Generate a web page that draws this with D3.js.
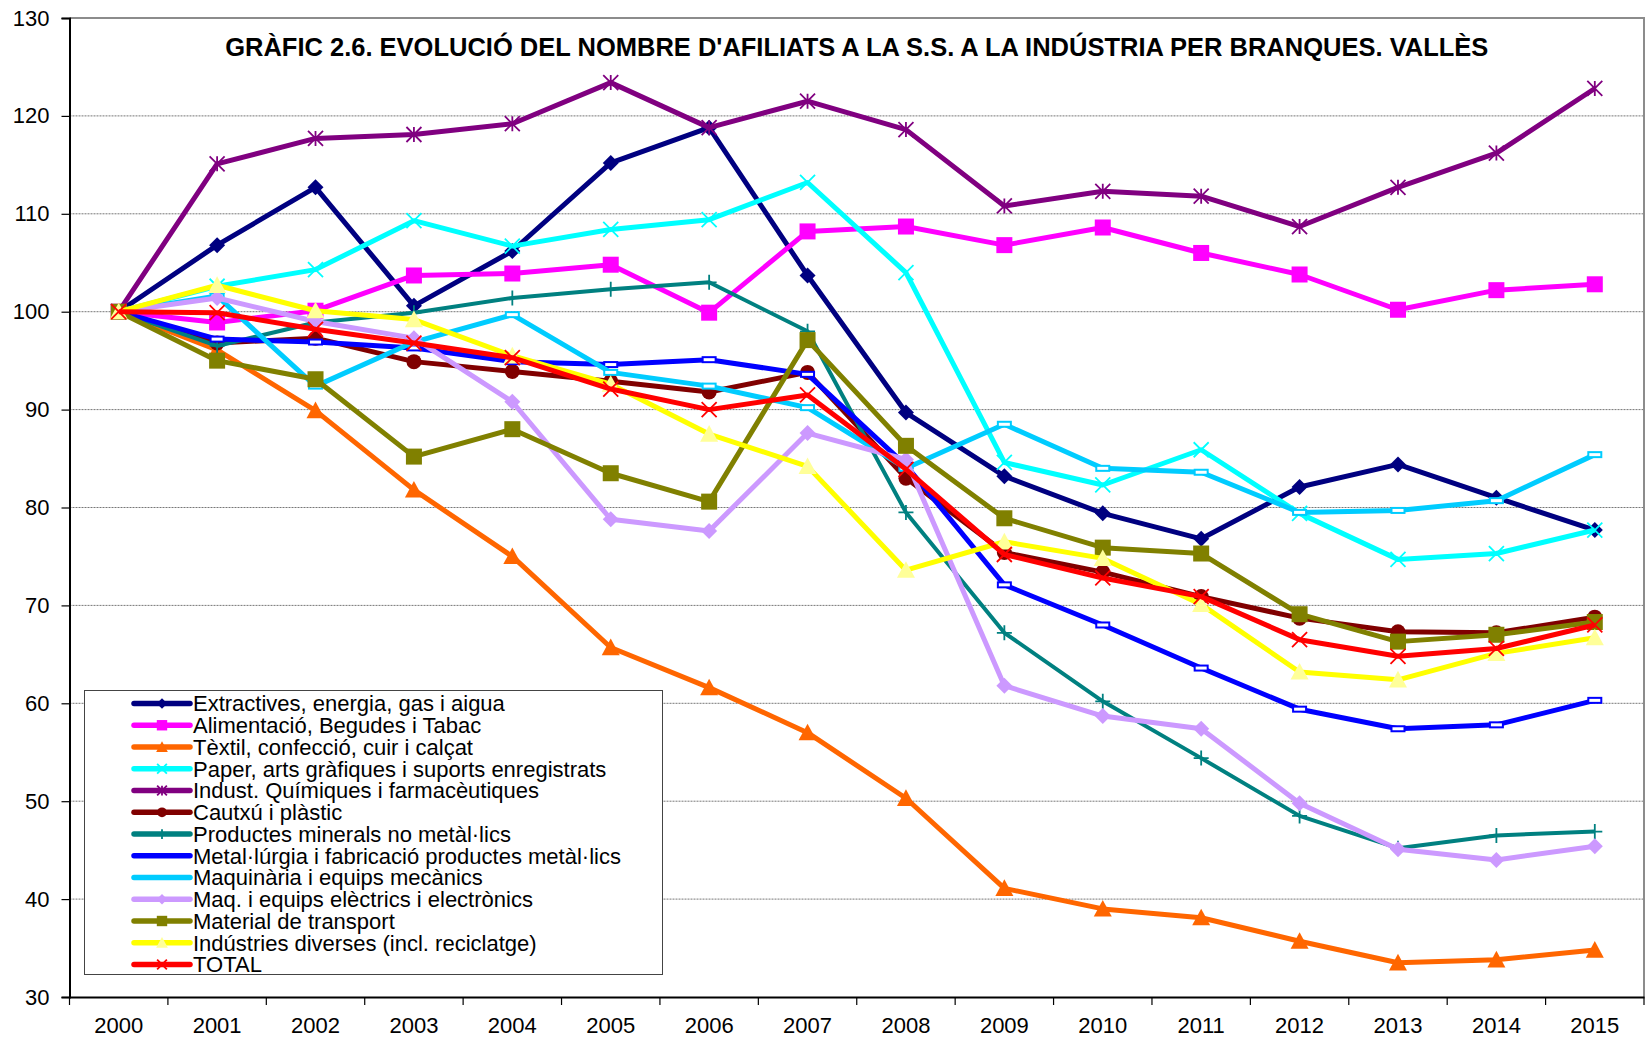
<!DOCTYPE html>
<html>
<head>
<meta charset="utf-8">
<script src="https://cdn.jsdelivr.net/npm/d3@7"></script>
<style>
  body { margin: 0; background: #fff; }
  svg { display: block; font-family: Arial, "Liberation Sans", sans-serif; }
</style>
</head>
<body>
<svg id="chart" width="1647" height="1038"></svg>
<script>
// ---- data (index 2000 = 100) ----
var years  = [2000,2001,2002,2003,2004,2005,2006,2007,2008,2009,2010,2011,2012,2013,2014,2015];
var yTicks = [30,40,50,60,70,80,90,100,110,120,130];
var title  = "GRÀFIC 2.6. EVOLUCIÓ DEL NOMBRE D'AFILIATS A LA S.S. A LA INDÚSTRIA PER BRANQUES. VALLÈS";

var seriesNames = [
    "Extractives, energia, gas i aigua",
    "Alimentació, Begudes i Tabac",
    "Tèxtil, confecció, cuir i calçat",
    "Paper, arts gràfiques i suports enregistrats",
    "Indust. Químiques i farmacèutiques",
    "Cautxú i plàstic",
    "Productes minerals no metàl·lics",
    "Metal·lúrgia i fabricació productes metàl·lics",
    "Maquinària i equips mecànics",
    "Maq. i equips elèctrics i electrònics",
    "Material de transport",
    "Indústries diverses (incl. reciclatge)",
    "TOTAL"
];

var extractives = [100,106.8,112.7,100.6,106.2,115.2,118.8,103.7,89.7,83.2,79.4,76.8,82.1,84.4,81.0,77.7];
var alimentacio = [100,98.9,100.1,103.7,103.9,104.8,99.9,108.2,108.7,106.8,108.6,106.0,103.8,100.2,102.2,102.8];
var textil      = [100,96.1,89.9,81.8,75.0,65.7,61.6,57.0,50.3,41.1,39.0,38.1,35.7,33.5,33.8,34.8];
var paper       = [100,102.6,104.3,109.3,106.7,108.4,109.4,113.2,104.0,84.6,82.3,85.9,79.4,74.7,75.3,77.7];
var quimiques   = [100,115.1,117.7,118.1,119.2,123.4,118.8,121.5,118.6,110.8,112.3,111.8,108.7,112.7,116.2,122.8];
var cautxu      = [100,96.8,97.3,94.9,93.9,92.9,91.8,93.8,83.0,75.4,73.4,70.9,68.7,67.3,67.2,68.8];
var minerals    = [100,96.5,98.9,99.9,101.4,102.3,103.0,98.0,79.5,67.2,60.2,54.4,48.5,45.2,46.5,46.9];
var metallurgia = [100,97.2,96.9,96.3,94.9,94.6,95.1,93.6,84.3,72.1,68.0,63.6,59.4,57.4,57.8,60.3];
var maquinaria  = [100,101.6,92.4,96.9,99.7,93.8,92.4,90.2,84.0,88.5,84.0,83.6,79.5,79.7,80.7,85.4];
var electrics   = [100,101.4,99.0,97.3,90.8,78.8,77.6,87.6,84.9,61.8,58.7,57.4,49.8,45.1,44.0,45.4];
var transport   = [100,95.0,93.1,85.2,88.0,83.5,80.6,97.1,86.3,78.9,75.9,75.3,69.1,66.3,67.0,68.3];
var diverses    = [100,102.7,100.1,99.2,95.5,92.6,87.5,84.2,73.6,76.5,74.8,70.1,63.2,62.4,65.1,66.7];
var total       = [100,99.9,98.2,96.8,95.3,92.1,90.0,91.5,83.9,75.2,72.8,70.9,66.5,64.8,65.6,68.0];

var seriesValues = [extractives, alimentacio, textil, paper, quimiques, cautxu, minerals,
                    metallurgia, maquinaria, electrics, transport, diverses, total];

// ---- styles ----
var seriesStyle = [
    { color: "#000080", marker: "diamond" },
    { color: "#FF00FF", marker: "square" },
    { color: "#FF6600", marker: "triangle" },
    { color: "#00FFFF", marker: "x" },
    { color: "#800080", marker: "star" },
    { color: "#800000", marker: "circle" },
    { color: "#008080", marker: "plus" },
    { color: "#0000FF", marker: "dash" },
    { color: "#00CCFF", marker: "dash" },
    { color: "#CC99FF", marker: "diamond" },
    { color: "#808000", marker: "square" },
    { color: "#FFFF00", marker: "triangle", fill: "#FFFF99" },
    { color: "#FF0000", marker: "x" }
];

var svg = d3.select("#chart");
var plot = { left: 69.5, top: 18, right: 1644, bottom: 997 };

var x = d3.scaleBand().domain(years).range([plot.left, plot.right]).padding(0);
var y = d3.scaleLinear().domain([30, 130]).range([plot.bottom, plot.top]);
var cx = function(d) { return x(d) + x.bandwidth() / 2; };

// gridlines
svg.append("g")
    .selectAll("line")
    .data(yTicks.filter(function(t) { return t > 30 && t < 130; }))
    .enter().append("line")
    .attr("x1", plot.left).attr("x2", plot.right)
    .attr("y1", function(d) { return y(d); }).attr("y2", function(d) { return y(d); })
    .attr("stroke", "#777").attr("stroke-width", 1).attr("stroke-dasharray", "2,1");

// frame (top/right grey)
svg.append("path")
    .attr("d", "M" + plot.left + "," + plot.top + "H" + plot.right + "V" + plot.bottom)
    .attr("fill", "none").attr("stroke", "#8c8c8c").attr("stroke-width", 2);

// axes
var yAxis = d3.axisLeft(y).tickValues(yTicks).tickSize(8).tickPadding(12);
var gy = svg.append("g").attr("transform", "translate(" + plot.left + ",0)").call(yAxis);
gy.select(".domain").attr("stroke", "#000").attr("stroke-width", 2);
gy.selectAll(".tick line").attr("stroke", "#000").attr("stroke-width", 1.2);
gy.selectAll("text").attr("font-size", "22px").attr("font-family", "Arial, 'Liberation Sans', sans-serif").attr("fill", "#000");

var xAxis = d3.axisBottom(x).tickSize(0).tickPadding(20);
var gx = svg.append("g").attr("transform", "translate(0," + plot.bottom + ")").call(xAxis);
gx.select(".domain").attr("stroke", "#000").attr("stroke-width", 2);
gx.selectAll("text").attr("font-size", "22px").attr("font-family", "Arial, 'Liberation Sans', sans-serif").attr("fill", "#000");
// tick marks between categories
gx.selectAll(".sep")
    .data(years.concat([null]))
    .enter().append("line")
    .attr("class", "sep")
    .attr("x1", function(d, i) { return plot.left + i * x.bandwidth(); })
    .attr("x2", function(d, i) { return plot.left + i * x.bandwidth(); })
    .attr("y1", 0).attr("y2", 8)
    .attr("stroke", "#000").attr("stroke-width", 1.2);

// title
svg.append("text")
    .attr("x", (plot.left + plot.right) / 2)
    .attr("y", 56)
    .attr("text-anchor", "middle")
    .attr("font-size", "25.5px")
    .attr("font-weight", "bold")
    .text(title);

// markers
var drawMarker = function(g, type, color, fill, s) {
    fill = fill || color;
    switch (type) {
        case "diamond":
            g.append("path").attr("d", "M0," + (-s) + "L" + s + ",0L0," + s + "L" + (-s) + ",0Z").attr("fill", fill);
            break;
        case "square":
            g.append("rect").attr("x", -s).attr("y", -s).attr("width", 2 * s).attr("height", 2 * s).attr("fill", fill);
            break;
        case "triangle":
            g.append("path").attr("d", "M0," + (-s) + "L" + s + "," + (s * 0.85) + "L" + (-s) + "," + (s * 0.85) + "Z").attr("fill", fill);
            break;
        case "circle":
            g.append("circle").attr("r", s).attr("fill", fill);
            break;
        case "x":
            g.append("path").attr("d", "M" + (-s) + "," + (-s) + "L" + s + "," + s + "M" + (-s) + "," + s + "L" + s + "," + (-s))
                .attr("stroke", color).attr("stroke-width", 1.8);
            break;
        case "star":
            g.append("path").attr("d", "M" + (-s) + "," + (-s) + "L" + s + "," + s + "M" + (-s) + "," + s + "L" + s + "," + (-s) + "M0," + (-s) + "V" + s)
                .attr("stroke", color).attr("stroke-width", 1.8);
            break;
        case "plus":
            g.append("path").attr("d", "M0," + (-s) + "V" + s + "M" + (-s) + ",0H" + s)
                .attr("stroke", color).attr("stroke-width", 1.8);
            break;
        case "dash":
            g.append("rect").attr("x", -s).attr("y", -2.5).attr("width", 2 * s).attr("height", 5)
                .attr("fill", "#fff").attr("stroke", color).attr("stroke-width", 2);
            break;
    }
};

var markerSize = { diamond: 8, square: 8, triangle: 9, circle: 7.5, x: 7.5, star: 7.5, plus: 7.5, dash: 6.5 };

var line = d3.line()
    .x(function(d, i) { return cx(years[i]); })
    .y(function(d) { return y(d); });

seriesValues.forEach(function(vals, k) {
    var st = seriesStyle[k];
    var g = svg.append("g").attr("class", "series");
    g.append("path")
        .datum(vals)
        .attr("d", line)
        .attr("fill", "none")
        .attr("stroke", st.color)
        .attr("stroke-width", k === 6 ? 4 : 5)
        .attr("stroke-linejoin", "round");
    g.selectAll(".m")
        .data(vals)
        .enter().append("g")
        .attr("class", "m")
        .attr("transform", function(d, i) { return "translate(" + cx(years[i]) + "," + y(d) + ")"; })
        .each(function() { drawMarker(d3.select(this), st.marker, st.color, st.fill, markerSize[st.marker]); });
});

// legend
var legend = svg.append("g");
legend.append("rect")
    .attr("x", 84.5).attr("y", 690.5).attr("width", 578).attr("height", 284)
    .attr("fill", "#fff").attr("stroke", "#444").attr("stroke-width", 1);

var rowY = function(i) { return 703.5 + i * 21.75; };
seriesNames.forEach(function(name, i) {
    var st = seriesStyle[i];
    var row = legend.append("g").attr("transform", "translate(0," + rowY(i) + ")");
    row.append("line").attr("x1", 134).attr("x2", 190).attr("y1", 0).attr("y2", 0)
        .attr("stroke", st.color).attr("stroke-width", 5.5).attr("stroke-linecap", "round");
    if (st.marker !== "dash") {
        var mg = row.append("g").attr("transform", "translate(162,0)");
        drawMarker(mg, st.marker, st.color, st.fill, markerSize[st.marker] * 0.65);
    }
    row.append("text").attr("x", 193).attr("y", 7.8)
        .attr("font-size", "22px").text(name);
});
</script>
</body>
</html>
